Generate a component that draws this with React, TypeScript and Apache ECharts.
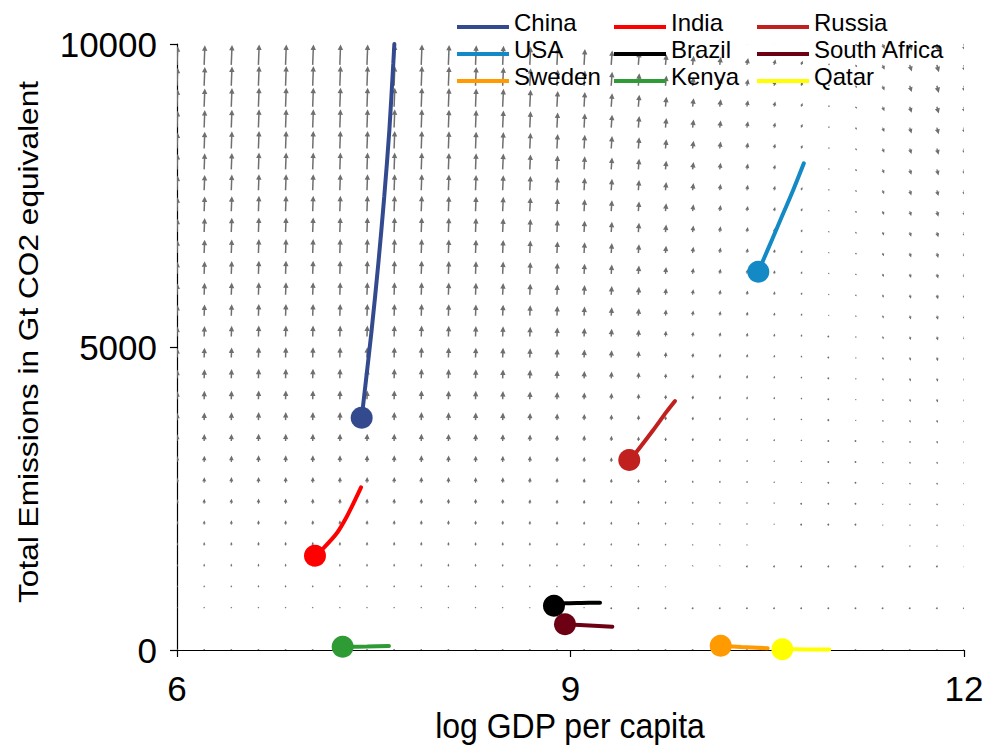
import React, { useEffect, useRef } from 'react';
import * as echarts from 'echarts';

const FONT = '"Liberation Sans", Arial, Helvetica, sans-serif';

// Countries in legend order (column-major, 3 columns)
const countries = ['China', 'USA', 'Sweden', 'India', 'Brazil', 'Kenya', 'Russia', 'South Africa', 'Qatar'];
const countryColors = ['#344a8e', '#138ac6', '#ff9a00', '#ff0000', '#000000', '#2e9b35', '#c0211f', '#6d0013', '#ffff00'];

// Trajectories: [log GDP per capita, total emissions]; first point = starting dot
const chinaPath = [[7.408, 3833], [7.441, 4455], [7.484, 5280], [7.535, 6380], [7.58, 7480], [7.619, 8580], [7.649, 9680], [7.657, 10000]];
const usaPath = [[10.432, 6243], [10.47, 6436], [10.546, 6820], [10.622, 7206], [10.698, 7591], [10.779, 8031]];
const swedenPath = [[10.145, 71], [10.3, 50], [10.503, 28]];
const indiaPath = [[7.052, 1556], [7.115, 1678], [7.218, 1926], [7.294, 2200], [7.357, 2475], [7.403, 2685]];
const brazilPath = [[8.874, 731], [8.958, 770], [9.08, 777], [9.225, 780]];
const kenyaPath = [[7.263, 52], [7.45, 58], [7.616, 66]];
const russiaPath = [[9.448, 3135], [9.504, 3272], [9.631, 3630], [9.733, 3933], [9.797, 4109]];
const southAfricaPath = [[8.958, 424], [9.072, 413], [9.319, 385]];
const qatarPath = [[10.615, 12], [10.8, 10], [10.973, 10]];
const paths = [chinaPath, usaPath, swedenPath, indiaPath, brazilPath, kenyaPath, russiaPath, southAfricaPath, qatarPath];

// Vector field grid (30 x 30)
const fieldX = Array.from({ length: 30 }, (_, i) => 6 + (i * 6) / 29);
const fieldY = Array.from({ length: 30 }, (_, j) => (j * 10000) / 29);
// Arrow rise (emissions units) per column at the top of the range
const columnRise = [320, 335, 342, 350, 350, 350, 350, 350, 350, 350, 342, 335, 328, 312, 290, 272, 248, 222, 182, 156, 138, 120, 96, 70, 20, -40, -85, -112, -126, -130];
// Arrow horizontal drift (log GDP units) per column at the top of the range
const columnDrift = [0.006, 0.006, 0.006, 0.006, 0.006, 0.006, 0.006, 0.006, 0.006, 0.006, 0.006, 0.006, 0.007, 0.007, 0.007, 0.007, 0.008, 0.008, 0.008, 0.009, 0.009, 0.01, 0.011, 0.012, 0.013, 0.014, 0.015, 0.016, 0.016, 0.016];

const fieldData: number[][] = [];
fieldX.forEach((x, i) => {
  fieldY.forEach((y) => {
    const s = y / 10000;
    fieldData.push([x, y, columnDrift[i] * s, columnRise[i] * s]);
  });
});

const xTicks = { min: 6, max: 12, interval: 3 };
const yTicks = { min: 0, max: 10000, interval: 5000 };

// Legend icon: a bar drawn in the lower part of the item box (with an invisible hairline on top)
const LEGEND_ICON = 'path://M0,0L52,0L52,0.01L0,0.01Z M0,10L52,10L52,14L0,14Z';

function renderArrow(params: any, api: any) {
  const x = api.value(0);
  const y = api.value(1);
  const dx = api.value(2);
  const dy = api.value(3);
  const p0 = api.coord([x, y]);
  const p1 = api.coord([x + dx, y + dy]);
  const vx = p1[0] - p0[0];
  const vy = p1[1] - p0[1];
  const len = Math.hypot(vx, vy);
  const fill = '#6f6f6f';
  if (len < 1.1) {
    return { type: 'circle', shape: { cx: p0[0], cy: p0[1], r: 0.9 }, style: { fill } };
  }
  const ux = vx / len;
  const uy = vy / len;
  const nx = -uy;
  const ny = ux;
  let hl = 5.5;
  let hw = 2.7;
  let sw = 0.75;
  if (len < 7.5) {
    const k = len / 7.5;
    hl *= k;
    hw = Math.max(1, hw * k);
    sw = Math.max(0.5, sw * k);
  }
  const base = len - hl;
  const pt = (a: number, b: number) => [p0[0] + ux * a + nx * b, p0[1] + uy * a + ny * b];
  const points = [pt(0, sw), pt(base, sw), pt(base, hw), pt(len, 0), pt(base, -hw), pt(base, -sw), pt(0, -sw)];
  return { type: 'polygon', shape: { points }, style: { fill } };
}

export default function App() {
  const ref = useRef<HTMLDivElement>(null);
  useEffect(() => {
    if (!ref.current) return;
    const chart = echarts.init(ref.current, undefined, { renderer: 'svg' });
    const axisCommon = {
      type: 'value' as const,
      axisLine: { show: true, onZero: false, lineStyle: { color: '#000', width: 1.2 } },
      axisTick: { show: true, inside: false, length: 7, lineStyle: { color: '#000', width: 1.2 } },
      splitLine: { show: false },
    };
    const lineSeries = countries.map((name, k) => ({
      name,
      type: 'line',
      data: paths[k],
      smooth: 0.3,
      symbol: 'none',
      clip: true,
      lineStyle: { color: countryColors[k], width: 4, cap: 'round' },
      itemStyle: { color: countryColors[k] },
      z: 3,
      silent: true,
    }));
    const dotSeries = countries.map((name, k) => ({
      name: name + ' start',
      type: 'scatter',
      data: [paths[k][0]],
      symbol: 'circle',
      symbolSize: 22,
      clip: false,
      itemStyle: { color: countryColors[k], opacity: 1 },
      z: 4,
      silent: true,
    }));
    const legendLefts = [457, 614, 757];
    chart.setOption({
      animation: false,
      backgroundColor: '#ffffff',
      grid: { left: 177, right: 28, top: 44, bottom: 99, containLabel: false },
      xAxis: {
        ...axisCommon,
        ...xTicks,
        axisLabel: { fontSize: 35, color: '#000', margin: 21, fontFamily: FONT },
      },
      yAxis: {
        ...axisCommon,
        ...yTicks,
        axisLabel: { fontSize: 35, color: '#000', margin: 20, fontFamily: FONT, formatter: (v: number) => String(v) },
      },
      legend: legendLefts.map((left, c) => ({
        orient: 'vertical',
        left,
        top: 8.5,
        padding: 0,
        itemGap: 0,
        itemWidth: 52,
        itemHeight: 14,
        icon: LEGEND_ICON,
        selectedMode: false,
        data: countries.slice(c * 3, c * 3 + 3),
        textStyle: { fontSize: 24, color: '#000', fontFamily: FONT, lineHeight: 27 },
      })),
      graphic: [
        {
          type: 'text',
          x: 570,
          y: 725,
          scaleY: 1.12,
          style: {
            text: 'log GDP per capita',
            fontSize: 32,
            fontFamily: FONT,
            fill: '#000',
            align: 'center',
            verticalAlign: 'middle',
            textAlign: 'center',
            textVerticalAlign: 'middle',
          },
        },
        {
          type: 'text',
          x: 28,
          y: 342,
          rotation: Math.PI / 2,
          scaleX: 1.13,
          style: {
            text: 'Total Emissions in Gt CO2 equivalent',
            fontSize: 28,
            fontFamily: FONT,
            fill: '#000',
            align: 'center',
            verticalAlign: 'middle',
            textAlign: 'center',
            textVerticalAlign: 'middle',
          },
        },
      ],
      series: [
        {
          name: 'field',
          type: 'custom',
          data: fieldData,
          renderItem: renderArrow,
          clip: true,
          silent: true,
          z: 1,
        },
        ...lineSeries,
        ...dotSeries,
      ],
    });
    return () => chart.dispose();
  }, []);
  return <div ref={ref} style={{ position: 'fixed', left: 0, top: 0, width: 992, height: 749 }} />;
}
